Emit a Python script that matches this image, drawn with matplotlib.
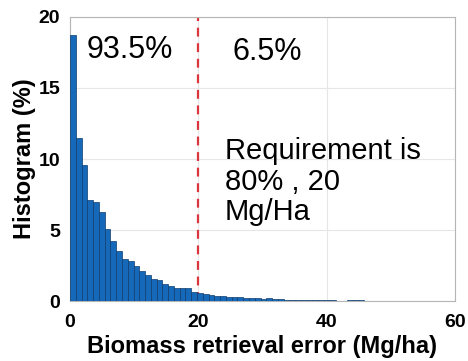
import numpy as np
import matplotlib
matplotlib.use('Agg')
import matplotlib.pyplot as plt

# histogram bins (Mg/ha), width
bin_width = 0.9
bin_heights = [
    18.7, 11.5, 9.6, 7.1, 6.95, 6.25, 5.05, 4.25, 3.5, 2.93,
    2.8, 2.5, 2.1, 1.85, 1.55, 1.45, 1.22, 1.05, 0.95, 0.95,
    0.95, 0.62, 0.6, 0.48, 0.42, 0.36, 0.34, 0.32, 0.28, 0.26,
    0.22, 0.2, 0.19, 0.17, 0.2, 0.15, 0.12, 0.11, 0.1, 0.09,
    0.07, 0.1, 0.09, 0.08, 0.1, 0.06, 0.04, 0.03, 0.05, 0.06,
    0.05, 0.04, 0.02, 0.04, 0.02, 0.02, 0.01, 0.01, 0.02, 0.01,
    0.01, 0.03, 0.01, 0.01, 0.01,
]
requirement = 20
share_below = '93.5%'
share_above = '6.5%'
note = 'Requirement is\n80% , 20\nMg/Ha'

x_ticks = [0, 20, 40, 60]
y_ticks = [0, 5, 10, 15, 20]

plt.rcParams['font.family'] = ['Liberation Sans', 'DejaVu Sans']

fig = plt.figure(figsize=(4.68, 3.61), dpi=100)
ax = fig.add_axes([0.1496, 0.166, 0.8224, 0.787])

edges = np.arange(len(bin_heights)) * bin_width
ax.bar(edges, bin_heights, width=bin_width, align='edge',
       color='#1668b8', edgecolor='#0f3d6e', linewidth=0.5, zorder=3)
ax.axvline(requirement, color='#d9363e', linestyle=(0, (4, 3)), linewidth=1.6, zorder=2)

ax.set_xlim(0, 60)
ax.set_ylim(0, 20)
ax.set_xticks(x_ticks)
ax.set_yticks(y_ticks)
ax.grid(True, color='#e6e6e6', linewidth=0.8, zorder=0)
ax.set_axisbelow(True)
for side in ax.spines.values():
    side.set_color('#b5b5b5')
    side.set_linewidth(0.8)
ax.tick_params(length=0, labelsize=14)
ax.tick_params(axis='x', pad=9)
ax.tick_params(axis='y', pad=7)
for lbl in ax.get_xticklabels() + ax.get_yticklabels():
    lbl.set_fontweight('bold')

ax.set_xlabel('Biomass retrieval error (Mg/ha)', fontsize=17, fontweight='bold', labelpad=3)
ax.set_ylabel('Histogram (%)', fontsize=17, fontweight='bold', labelpad=2)

ax.text(2.65, 17.1, share_below, fontsize=22, va='baseline', ha='left')
ax.text(25.4, 17.0, share_above, fontsize=22, va='baseline', ha='left')
ax.text(24.1, 11.55, note, fontsize=21, va='top', ha='left', linespacing=1.12)

fig.savefig('out.png', dpi=100)
